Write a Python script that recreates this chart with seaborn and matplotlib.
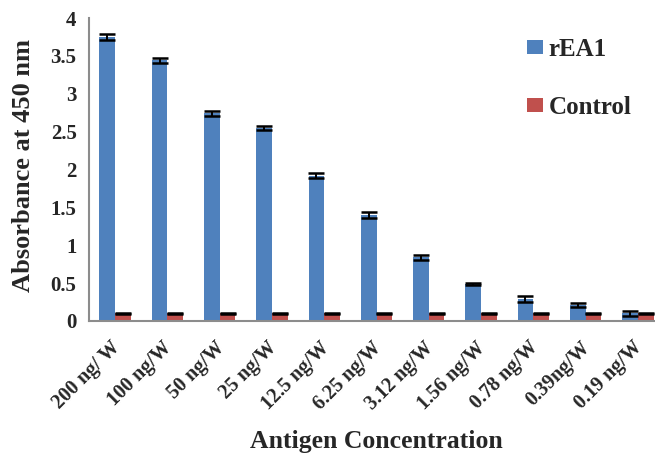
import matplotlib
matplotlib.use("Agg")
import matplotlib.pyplot as plt
import matplotlib.transforms as mtransforms
import numpy as np
import pandas as pd
import seaborn as sns

# data
concentrations = ["200 ng/ W", "100 ng/W", "50 ng/W", "25 ng/W", "12.5 ng/W",
                  "6.25 ng/W", "3.12 ng/W", "1.56 ng/W", "0.78 ng/W",
                  "0.39ng/W", "0.19 ng/W"]
rea1_mean = [3.75, 3.44, 2.74, 2.55, 1.92, 1.40, 0.84, 0.49, 0.29, 0.21, 0.10]
rea1_err = [0.035, 0.03, 0.035, 0.03, 0.03, 0.035, 0.035, 0.012, 0.035, 0.03, 0.03]
control_mean = [0.10, 0.10, 0.10, 0.10, 0.10, 0.10, 0.10, 0.10, 0.10, 0.10, 0.10]
control_err = [0.004] * 11
groups = ["rEA1", "Control"]
colors = ["#4F81BD", "#C0504D"]

df = pd.DataFrame({
    "conc": concentrations * 2,
    "group": [groups[0]] * 11 + [groups[1]] * 11,
    "value": rea1_mean + control_mean,
    "err": rea1_err + control_err,
})

sns.set_style("white")
plt.rcParams["font.family"] = ["Liberation Serif", "DejaVu Serif"]
plt.rcParams["font.weight"] = "bold"

fig = plt.figure(figsize=(6.55, 4.53), dpi=100)
ax = fig.add_axes([89 / 655, 132 / 453, 575 / 655, 303 / 453])

sns.barplot(data=df, x="conc", y="value", hue="group", order=concentrations,
            hue_order=groups, palette=colors, width=0.6, errorbar=None,
            saturation=1, linewidth=0, ax=ax)

# error bars on top of each bar
for cont, g in zip(ax.containers, groups):
    sub = df[df["group"] == g].set_index("conc").loc[concentrations]
    xs = [p.get_x() + p.get_width() / 2 for p in cont.patches]
    ax.errorbar(xs, sub["value"], yerr=sub["err"], fmt="none", ecolor="black",
                elinewidth=1.4, capsize=5.5, capthick=1.8, zorder=5)

ax.set_ylim(0, 4)
ax.set_yticks(np.arange(0, 4.01, 0.5))
ax.set_yticklabels(["0", "0.5", "1", "1.5", "2", "2.5", "3", "3.5", "4"])
ax.set_xlim(-0.5, 10.5)
ax.set_xticks(np.arange(-0.5, 11, 1), minor=True)
ax.tick_params(axis="x", which="major", length=0, pad=12)
ax.tick_params(axis="x", which="minor", length=5, width=1.2, color="#8c8c8c")
ax.tick_params(axis="y", length=5, width=1.2, color="#8c8c8c", labelsize=15, pad=4)
shift = mtransforms.ScaledTranslation(-5 / 100, 0, fig.dpi_scale_trans)
for lab in ax.get_xticklabels():
    lab.set_rotation(45)
    lab.set_ha("right")
    lab.set_rotation_mode("anchor")
    lab.set_fontsize(14.5)
    lab.set_fontweight("bold")
    lab.set_transform(lab.get_transform() + shift)
plt.setp(ax.get_yticklabels(), fontweight="bold")

ax.set_xlabel("Antigen Concentration", fontsize=18.5, fontweight="bold")
ax.set_ylabel("Absorbance at 450 nm", fontsize=19, fontweight="bold")
ax.xaxis.set_label_coords((376 - 89) / 575, -(430 - 320.7) / 303)
ax.yaxis.set_label_coords(-(89 - 35) / 575, (320.7 - 165) / 303)

sns.despine(ax=ax, top=True, right=True)
for side in ["left", "bottom"]:
    ax.spines[side].set_color("#8c8c8c")
    ax.spines[side].set_linewidth(1.5)

leg = ax.legend(loc="upper left", bbox_to_anchor=(527 / 655, 1 - 38 / 453),
                bbox_transform=fig.transFigure, frameon=False, borderpad=0,
                borderaxespad=0, handlelength=0.62, handleheight=0.5,
                handletextpad=0.25, labelspacing=1.4,
                prop={"family": "Liberation Serif", "weight": "bold", "size": 18})

fig.savefig("out.png", dpi=100)
